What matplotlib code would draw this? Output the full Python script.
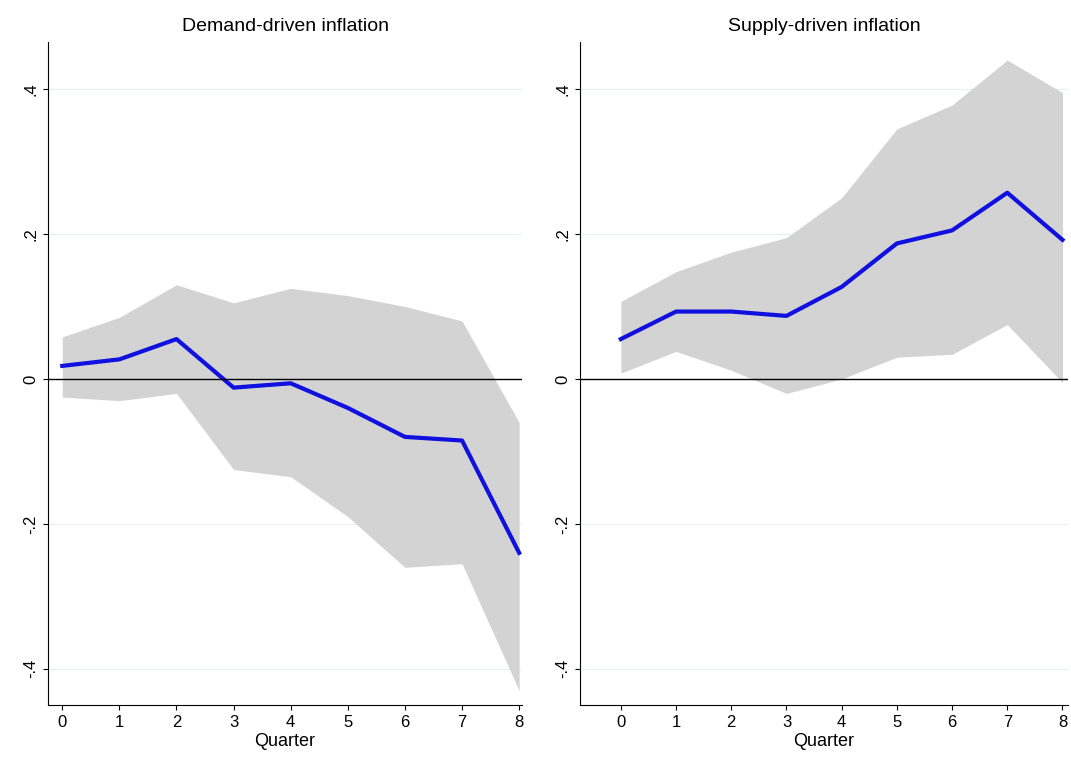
import matplotlib.pyplot as plt

plt.rcParams['font.family'] = ['Liberation Sans', 'DejaVu Sans']

quarters = [0, 1, 2, 3, 4, 5, 6, 7, 8]

demand_mean = [0.018, 0.027, 0.055, -0.012, -0.006, -0.040, -0.080, -0.085, -0.240]
demand_upper = [0.058, 0.085, 0.130, 0.105, 0.125, 0.115, 0.100, 0.080, -0.060]
demand_lower = [-0.025, -0.030, -0.020, -0.125, -0.135, -0.190, -0.260, -0.255, -0.430]

supply_mean = [0.055, 0.093, 0.093, 0.087, 0.127, 0.187, 0.205, 0.257, 0.192]
supply_upper = [0.107, 0.148, 0.175, 0.195, 0.250, 0.345, 0.378, 0.440, 0.395]
supply_lower = [0.008, 0.038, 0.012, -0.020, 0.000, 0.030, 0.034, 0.075, -0.005]

yticks = [-0.4, -0.2, 0, 0.2, 0.4]
ylabels = ["-.4", "-.2", "0", ".2", ".4"]

fig = plt.figure(figsize=(10.71, 7.62), dpi=100)
ax1 = fig.add_axes([48/1071, 57/762, 474/1071, 663/762])
ax2 = fig.add_axes([580/1071, 57/762, 488/1071, 663/762])

panels = [
    (ax1, "Demand-driven inflation", demand_mean, demand_upper, demand_lower, (-0.25, 8.05)),
    (ax2, "Supply-driven inflation", supply_mean, supply_upper, supply_lower, (-0.74, 8.1)),
]

for ax, title, mean, upper, lower, xlim in panels:
    ax.fill_between(quarters, lower, upper, color="#d3d3d3", linewidth=0)
    ax.plot(quarters, mean, color="#1010e0", linewidth=3)
    ax.axhline(0, color="black", linewidth=1)
    for t in [-0.4, -0.2, 0.2, 0.4]:
        ax.axhline(t, color="#e6eef0", linewidth=0.8, zorder=0)
    ax.set_xlim(*xlim)
    ax.set_ylim(-0.45, 0.465)
    ax.set_xticks(quarters)
    ax.set_yticks(yticks)
    ax.set_yticklabels(ylabels, rotation=90, va="center")
    ax.tick_params(labelsize=12)
    ax.set_title(title, fontsize=14, pad=8)
    ax.set_xlabel("Quarter", fontsize=13, labelpad=2)
    ax.spines["top"].set_visible(False)
    ax.spines["right"].set_visible(False)

fig.savefig("out.png", dpi=100)
